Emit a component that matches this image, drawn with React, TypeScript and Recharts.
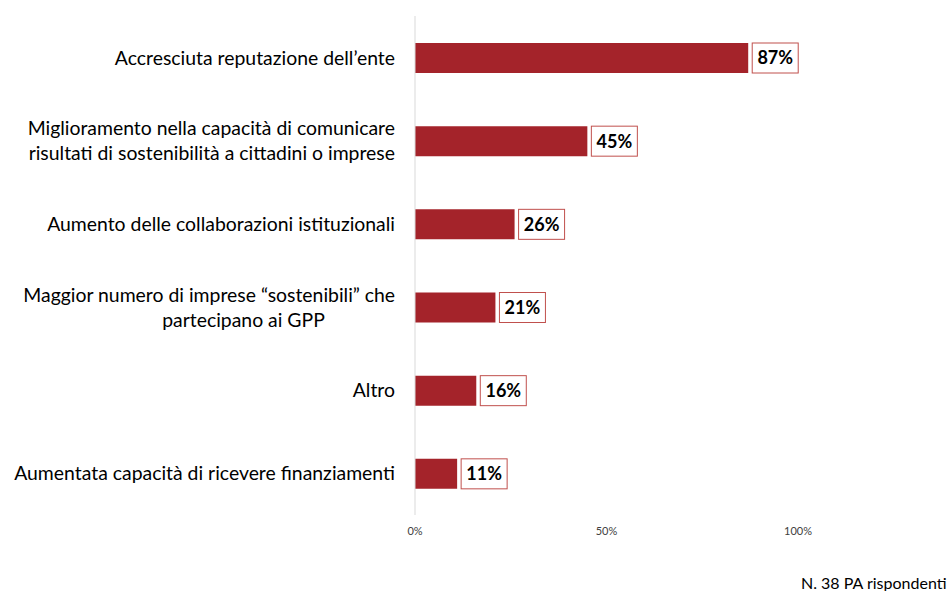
import React from "react";
import { BarChart, Bar, XAxis, YAxis, LabelList } from "recharts";

const categories = [
  "Accresciuta reputazione dell’ente",
  "Miglioramento nella capacità di comunicare\nrisultati di sostenibilità a cittadini o imprese",
  "Aumento delle collaborazioni istituzionali",
  "Maggior numero di imprese “sostenibili” che\npartecipano ai GPP",
  "Altro",
  "Aumentata capacità di ricevere finanziamenti",
];
const values = [87, 45, 26, 21, 16, 11];
const xTicks = [0, 50, 100];
const footnote = "N. 38 PA rispondenti";

const data = categories.map((c, i) => ({ name: c, value: values[i] }));

const FONT = "Lato, 'Open Sans', sans-serif";
const BAR_COLOR = "#A4232A";

// lines that are centred rather than right-aligned (style only: centre offset from tick x)
const centredLines: Record<string, number> = { "partecipano ai GPP": -151.5 };

const CategoryTick = (props: any) => {
  const { x, y, payload } = props;
  const lines = String(payload.value).split("\n");
  const lh = 25;
  const start = y - ((lines.length - 1) * lh) / 2;
  return (
    <g>
      {lines.map((ln, i) => {
        const centred = centredLines[ln] !== undefined;
        return (
          <text
            key={i}
            x={x + (centred ? centredLines[ln] : 0)}
            y={start + i * lh}
            dy="0.36em"
            textAnchor={centred ? "middle" : "end"}
            fontFamily={FONT}
            fontSize={19.4}
            fill="#000"
          >
            {ln}
          </text>
        );
      })}
    </g>
  );
};

const ValueBox = (props: any) => {
  const { x, y, width, height, value } = props;
  const bx = x + width + 4;
  return (
    <g>
      <rect x={bx} y={y} width={46} height={height} fill="#fff" stroke="#C0504D" strokeWidth={1} />
      <text
        x={bx + 23}
        y={y + height / 2}
        dy="0.36em"
        textAnchor="middle"
        fontFamily={FONT}
        fontWeight={700}
        fontSize={18}
        fill="#000"
      >
        {value}%
      </text>
    </g>
  );
};

export default function App() {
  return (
    <div style={{ position: "absolute", left: 0, top: 0, width: 951, height: 591, background: "#fff" }}>
      <BarChart
        width={951}
        height={591}
        data={data}
        layout="vertical"
        margin={{ top: 16, right: 153, left: 0, bottom: 46 }}
        barSize={30}
      >
        <XAxis
          type="number"
          domain={[0, 100]}
          ticks={xTicks}
          tickFormatter={(v: number) => `${v}%`}
          axisLine={false}
          tickLine={false}
          tickSize={0}
          tickMargin={12}
          height={30}
          tick={{ fontFamily: FONT, fontSize: 11, fill: "#404040" }}
          interval={0}
        />
        <YAxis
          type="category"
          dataKey="name"
          width={415}
          axisLine={{ stroke: "#D9D9D9" }}
          tickLine={false}
          tickSize={0}
          tickMargin={20}
          tick={<CategoryTick />}
          interval={0}
        />
        <Bar dataKey="value" fill={BAR_COLOR} isAnimationActive={false}>
          <LabelList dataKey="value" content={<ValueBox />} />
        </Bar>
      </BarChart>
      <div
        style={{
          position: "absolute",
          left: 801,
          top: 573,
          fontFamily: FONT,
          fontSize: 16,
          color: "#000",
          whiteSpace: "nowrap",
        }}
      >
        {footnote}
      </div>
    </div>
  );
}
